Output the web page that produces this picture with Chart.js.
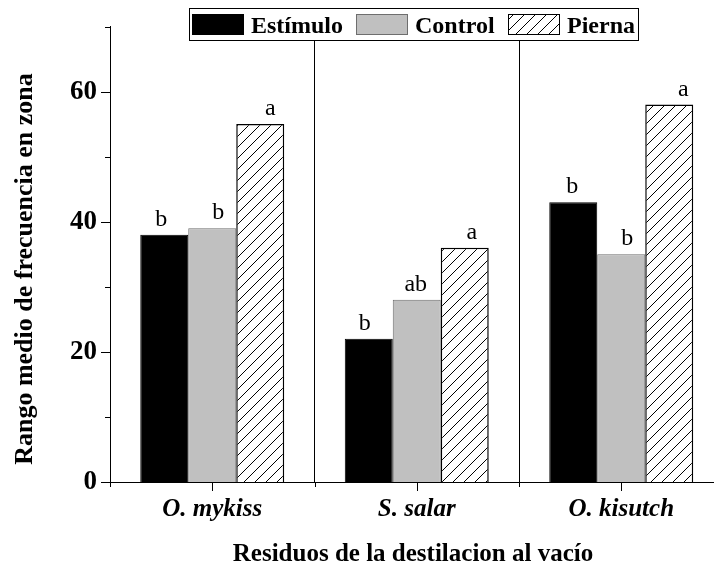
<!DOCTYPE html>
<html lang="es">
<head>
<meta charset="utf-8">
<title>Rango medio de frecuencia en zona</title>
<script src="https://cdn.jsdelivr.net/npm/chart.js@4.4.1/dist/chart.umd.min.js"></script>
<style>
  html, body { margin: 0; padding: 0; background: #fff; overflow: hidden; }
  #grafico { display: block; }
</style>
</head>
<body>
<canvas id="grafico" width="730" height="569"></canvas>
<script>
const especies = ['O. mykiss', 'S. salar', 'O. kisutch'];
const estimulo = [38, 22, 43];
const control = [39, 28, 35];
const pierna = [55, 36, 58];

// letras de significancia sobre cada barra
const letrasEstimulo = ['b', 'b', 'b'];
const letrasControl = ['b', 'ab', 'b'];
const letrasPierna = ['a', 'a', 'a'];

const ticksY = [0, 20, 40, 60];

const serif = "'Liberation Serif', 'Times New Roman', serif";

// pequeño corrimiento horizontal de cada letra (px)
const corrimientoLetras = [[-3, -4, -1], [6, -1, 6], [10, 7, 14]];

function rayado(ctx) {
  const n = 11;
  const c = document.createElement('canvas');
  c.width = n; c.height = n;
  const g = c.getContext('2d');
  g.fillStyle = '#fff';
  g.fillRect(0, 0, n, n);
  g.strokeStyle = '#000';
  g.lineWidth = 1;
  g.beginPath();
  g.moveTo(0, n); g.lineTo(n, 0);
  g.moveTo(-1, 1); g.lineTo(1, -1);
  g.moveTo(n - 1, n + 1); g.lineTo(n + 1, n - 1);
  g.stroke();
  return ctx.createPattern(c, 'repeat');
}

const canvas = document.getElementById('grafico');
const ctx = canvas.getContext('2d');
const patron = rayado(ctx);

// marcas de los ejes: mayores y menores
const marcas = {
  id: 'marcas',
  afterDraw(chart) {
    const { ctx, chartArea: a, scales: { x, y } } = chart;
    ctx.save();
    ctx.strokeStyle = '#000';
    ctx.lineWidth = 1;
    ctx.beginPath();
    y.ticks.forEach(t => {
      const py = Math.round(y.getPixelForValue(t.value)) + 0.5;
      const largo = ticksY.includes(t.value) ? 9 : 5;
      ctx.moveTo(a.left - largo, py);
      ctx.lineTo(a.left, py);
    });
    especies.forEach((_, i) => {
      const px = Math.round(x.getPixelForValue(i)) + 0.5;
      ctx.moveTo(px, a.bottom);
      ctx.lineTo(px, a.bottom + 9);
      const pb = Math.round(x.getPixelForValue(i - 0.5)) + 0.5;
      ctx.moveTo(pb, a.bottom);
      ctx.lineTo(pb, a.bottom + 5);
    });
    ctx.stroke();
    ctx.restore();
  }
};

const letras = {
  id: 'letras',
  afterDatasetsDraw(chart) {
    const ctx = chart.ctx;
    const todas = [letrasEstimulo, letrasControl, letrasPierna];
    ctx.save();
    ctx.fillStyle = '#000';
    ctx.font = '24px ' + serif;
    ctx.textAlign = 'center';
    ctx.textBaseline = 'alphabetic';
    chart.data.datasets.forEach((ds, i) => {
      chart.getDatasetMeta(i).data.forEach((barra, j) => {
        ctx.fillText(todas[i][j], barra.x + corrimientoLetras[i][j], barra.y - 9);
      });
    });
    ctx.restore();
  }
};

const textos = {
  id: 'textos',
  afterDraw(chart) {
    const ctx = chart.ctx;
    ctx.save();
    ctx.fillStyle = '#000';
    ctx.font = 'bold 25px ' + serif;
    ctx.textAlign = 'center';
    ctx.textBaseline = 'alphabetic';
    ctx.fillText('Residuos de la destilacion al vacío', 413, 561);
    ctx.translate(32, 269);
    ctx.rotate(-Math.PI / 2);
    ctx.font = 'bold 26px ' + serif;
    ctx.fillText('Rango medio de frecuencia en zona', 0, 0);
    ctx.restore();

    // leyenda en recuadro
    ctx.save();
    ctx.fillStyle = '#fff';
    ctx.fillRect(189, 8, 449, 32);
    ctx.strokeStyle = '#000';
    ctx.lineWidth = 1;
    ctx.strokeRect(189.5, 8.5, 449, 32);
    const xs = [192, 356, 508];
    ctx.font = 'bold 24px ' + serif;
    ctx.textBaseline = 'alphabetic';
    chart.data.datasets.forEach((ds, i) => {
      ctx.fillStyle = ds.backgroundColor;
      ctx.fillRect(xs[i], 14, 52, 21);
      ctx.strokeStyle = ds.borderColor;
      ctx.strokeRect(xs[i] + 0.5, 14.5, 51, 20);
      ctx.fillStyle = '#000';
      ctx.fillText(ds.label, xs[i] + 59, 33);
    });
    ctx.restore();
  }
};

new Chart(ctx, {
  type: 'bar',
  data: {
    labels: especies,
    datasets: [
      { label: 'Estímulo', data: estimulo, backgroundColor: '#000', borderColor: '#000', borderWidth: 1 },
      { label: 'Control', data: control, backgroundColor: '#c0c0c0', borderColor: '#6e6e6e', borderWidth: 1 },
      { label: 'Pierna', data: pierna, backgroundColor: patron, borderColor: '#000', borderWidth: 1.5 }
    ]
  },
  options: {
    responsive: false,
    animation: false,
    events: [],
    datasets: { bar: { categoryPercentage: 0.704, barPercentage: 1 } },
    layout: { padding: { top: 23, right: 6.5, left: 0, bottom: 0 } },
    plugins: { legend: { display: false }, tooltip: { enabled: false } },
    scales: {
      x: {
        afterFit(s) { s.height = 87; },
        grid: { display: true, offset: true, color: '#000', lineWidth: 1, drawTicks: false },
        border: { display: true, color: '#000', width: 1 },
        ticks: {
          color: '#000',
          padding: 15,
          font: { family: serif, size: 25, weight: 'bold', style: 'italic', lineHeight: 1 }
        }
      },
      y: {
        min: 0,
        max: 70,
        afterFit(s) { s.width = 110; },
        grid: { display: false, drawTicks: false },
        border: { display: true, color: '#000', width: 1 },
        ticks: {
          stepSize: 10,
          color: '#000',
          padding: 13,
          font: { family: serif, size: 27, weight: 'bold', lineHeight: 1 },
          callback: v => ticksY.includes(v) ? v : ''
        }
      }
    }
  },
  plugins: [marcas, letras, textos]
});
</script>
</body>
</html>
